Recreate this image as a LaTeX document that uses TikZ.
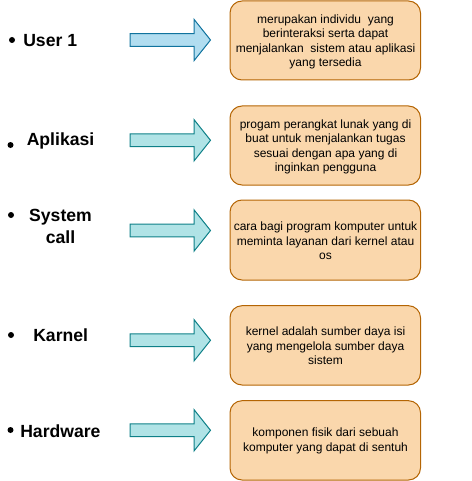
\documentclass[tikz,border=0pt]{standalone}
\usepackage{fontspec}
\setmainfont{Liberation Sans}
\begin{document}
\begin{tikzpicture}[x=0.75pt,y=-0.75pt,
  descbox/.style={draw=boxline,fill=boxfill,rounded corners=9pt,line width=0.75pt},
  desctext/.style={align=center,font=\fontsize{9pt}{10.9pt}\selectfont,inner sep=0pt},
  lbl/.style={font=\fontsize{13.2pt}{16.5pt}\selectfont\bfseries,align=center,inner sep=0pt},
  blt/.style={circle,fill=black,inner sep=0pt,minimum size=4.5pt},
  arrowA/.style={draw=arrAline,fill=arrAfill,line width=0.75pt},
  arrowB/.style={draw=arrBline,fill=arrBfill,line width=0.75pt}]
\definecolor{boxfill}{HTML}{FAD7AC}
\definecolor{boxline}{HTML}{B46504}
\definecolor{arrAfill}{HTML}{B1DDF0}
\definecolor{arrAline}{HTML}{10739E}
\definecolor{arrBfill}{HTML}{B0E3E6}
\definecolor{arrBline}{HTML}{0E8088}
\useasboundingbox (0,0) rectangle (471,481);
% boxes
\draw[descbox] (230,1) rectangle (420.5,80);
\draw[descbox] (230,106) rectangle (420.5,185);
\draw[descbox] (230,200) rectangle (420.5,280);
\draw[descbox] (230,305.7) rectangle (420.5,385);
\draw[descbox] (230,400.7) rectangle (420.5,480);
\node[desctext] (t1) at (325.5,42) {merupakan individu\ \ yang\\berinteraksi serta dapat\\menjalankan\ \ sistem atau aplikasi\\yang tersedia};
\node[desctext] (t2) at (325.5,147) {progam perangkat lunak yang di\\buat untuk menjalankan tugas\\sesuai dengan apa yang di\\inginkan pengguna};
\node[desctext] (t3) at (325.5,241) {cara bagi program komputer untuk\\meminta layanan dari kernel atau\\os};
\node[desctext] (t4) at (325.5,346) {kernel adalah sumber daya isi\\yang mengelola sumber daya\\sistem};
\node[desctext] (t5) at (325.5,441) {komponen fisik dari sebuah\\komputer yang dapat di sentuh};
% arrows
\draw[arrowA] (130,33.6) -- (194,33.6) -- (194,19.3) -- (210.5,40) -- (194,60.7) -- (194,46.4) -- (130,46.4) -- cycle;
\foreach \cy in {140.3,230.5,340.3,430.3}{
  \draw[arrowB] (130,\cy-6.4) -- (194,\cy-6.4) -- (194,\cy-20.7) -- (210.5,\cy) -- (194,\cy+20.7) -- (194,\cy+6.4) -- (130,\cy+6.4) -- cycle;
}
% labels
\node[blt] (b1) at (12,40) {};
\node[lbl,anchor=west] (l1) at (23,40.5) {User 1};
\node[blt] (b2) at (10.5,145) {};
\node[lbl,anchor=west] (l2) at (26.5,140.5) {Aplikasi};
\node[blt] (b3) at (11,215) {};
\node[lbl] (l3) at (60.5,226) {System\\call};
\node[blt] (b4) at (11,335) {};
\node[lbl,anchor=west] (l4) at (33,335.5) {Karnel};
\node[blt] (b5) at (10.5,430) {};
\node[lbl,anchor=west] (l5) at (20,431) {Hardware};
\end{tikzpicture}
\end{document}
